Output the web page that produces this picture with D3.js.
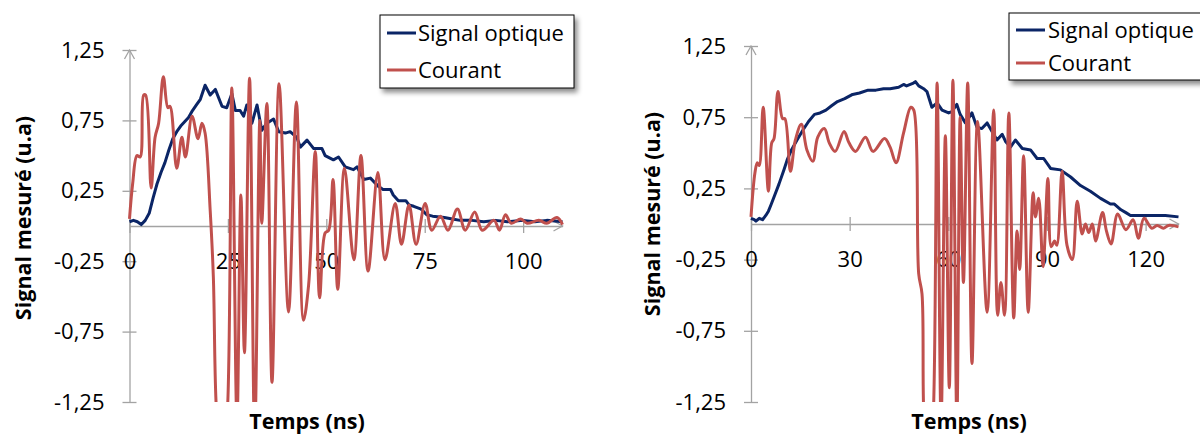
<!DOCTYPE html>
<html><head><meta charset="utf-8">
<script src="https://cdn.jsdelivr.net/npm/d3@7"></script>
<style>body{margin:0;background:#fff}svg{display:block}</style>
</head><body>
<svg id="c" width="1200" height="437"></svg>
<script>
// ---------- DATA ----------
const leftOptiqueT = [0,1,2,3,4,5,6,7,8,9,10,11,12,13,14,15,16,17,18,19.2,20.5,21.8,23.5,24.7,26,26.9,28.1,29,29.8,31.1,32.4,33.6,34.9,36.6,37.9,39.6,40.8,42.5,43.4,45.1,46.8,48.9,49.7,51.8,53.1,54.8,56.9,57.8,59.5,61.2,63.3,64.4,66.3,67,68.3,70.2,71,72.2,74.1,75.5,77,80,82,84,87,90,93,96,100,103,106,110];
const leftOptique  = [0.03,0.04,0.03,0.01,0.04,0.09,0.2,0.3,0.38,0.45,0.54,0.62,0.67,0.71,0.74,0.77,0.82,0.86,0.9,1.0,0.93,0.97,0.85,0.84,0.94,0.82,0.82,0.78,0.86,0.73,0.86,0.68,0.73,0.76,0.67,0.66,0.67,0.63,0.56,0.61,0.55,0.55,0.5,0.47,0.49,0.42,0.4,0.42,0.33,0.34,0.28,0.26,0.26,0.22,0.18,0.18,0.15,0.14,0.12,0.08,0.07,0.06,0.05,0.04,0.04,0.03,0.04,0.03,0.04,0.03,0.04,0.03];
const leftCourantT = [0,0.8,1.9,2.7,3.6,4.1,5.5,6.5,7.4,8.6,9.75,10.3,12,13.3,14.2,15.9,17.4,18.4,19.2,20.5,21.3,22,23.4,24.9,26,27.3,28.3,29.2,30.5,31.8,33.1,33.6,34.9,36.2,38,40.4,42.4,44.2,45.5,47.2,48.3,49.7,50.6,51.7,52.9,54.6,57,58.8,60.6,63.1,64.9,67.5,69.1,71,72.8,75.1,76.8,79,80.9,83.3,85.3,87.7,89.6,92.6,94,95.5,97,99.4,101,104,106,108.6,110];
const leftCourant  = [0.05,0.3,0.5,0.49,0.93,0.93,0.27,0.63,0.73,1.06,0.84,0.85,0.41,0.63,0.49,0.78,0.62,0.73,0.66,0.11,-0.36,-1.26,-1.8,-1.3,0.98,-1.4,0.22,-0.9,1.05,-1.5,0.75,0.02,0.87,-1.11,1.01,-0.61,0.88,-0.67,-0.42,0.53,-0.51,-0.05,-0.03,0.33,-0.45,0.41,-0.24,0.5,-0.32,0.38,-0.24,0.16,-0.13,0.15,-0.13,0.16,-0.03,0.07,-0.03,0.12,-0.03,0.1,-0.03,0.04,-0.03,0.08,0.02,0.05,0.02,0.04,0.02,0.06,0.01];

const rightOptiqueT = [0,1,1.5,2.5,3.5,4.5,5.3,6,7,8.5,10,11,12.3,14,15.8,17.5,19.3,21,22.8,24.5,26.3,28.5,30.9,33,35.6,38,40.3,42.3,44.9,46.4,47.3,49.4,50,51,52.5,53.5,55,56.6,58.1,60.1,61.1,62.6,63.6,65.2,67.2,68.7,70.2,71.8,73.3,74.8,76.4,77.4,78.9,80.4,82.5,85,87,89,91.1,94.1,97.2,100.2,103.2,106.3,109.3,110.5,112.5,114,115.4,118,122,126,130];
const rightOptique  = [0.04,0.03,0.02,0.04,0.03,0.06,0.09,0.13,0.19,0.28,0.38,0.45,0.52,0.59,0.66,0.72,0.77,0.78,0.8,0.83,0.86,0.88,0.91,0.92,0.94,0.94,0.95,0.95,0.96,0.98,0.97,0.99,1.0,0.97,0.95,0.93,0.82,0.85,0.8,0.78,0.79,0.84,0.77,0.71,0.78,0.68,0.67,0.71,0.65,0.59,0.63,0.58,0.54,0.59,0.53,0.52,0.46,0.46,0.39,0.38,0.33,0.27,0.23,0.18,0.14,0.14,0.1,0.08,0.06,0.06,0.06,0.06,0.05];
const rightCourantT = [0,1.2,1.9,2.5,3.7,5.3,6.3,7,8.2,9.6,10.3,12,13.5,15.3,17,18.8,20.3,22.3,23.8,25.6,28.3,29.8,31.8,34.8,37.1,40.6,42.3,44.1,46.4,48.6,49.5,51,52,52.5,54,55.5,56.6,57.8,59.1,60.3,61.4,62.6,63.6,64.6,65.9,67.2,68.9,71.8,73.8,75,76,77.1,78.4,79.9,80.9,81.7,82.9,84.3,85.8,86.5,87.5,88.8,90.3,91.3,92.3,93,94.6,96.1,97.7,99.2,100.7,101.7,102.7,103.8,104.8,106.9,108.1,109.5,111.5,114,116.2,117.8,119.5,121.9,123.5,125.4,127,130];
const rightCourant  = [0.05,0.36,0.43,0.41,0.82,0.23,0.57,0.6,0.93,0.74,0.74,0.37,0.59,0.7,0.52,0.44,0.61,0.67,0.57,0.51,0.65,0.57,0.51,0.61,0.51,0.6,0.54,0.43,0.64,0.82,0.8,-0.35,-0.49,-1.3,-1.9,-1.3,0.99,-1.4,0.62,-1.15,1.01,-1.4,0.75,-0.41,0.99,-0.98,0.72,-0.62,0.8,-0.64,-0.41,-0.64,0.78,-0.66,-0.05,-0.32,0.48,-0.62,0.22,0.05,0.18,-0.3,0.32,-0.16,-0.12,-0.15,0.37,-0.15,-0.25,0.16,-0.07,0,-0.06,0,-0.12,0.08,-0.05,-0.14,0.07,-0.04,0.03,-0.1,0.04,-0.03,-0.01,-0.03,-0.01,-0.02];

const yTickValues = [-1.25,-0.75,-0.25,0.25,0.75,1.25];
const leftXTicks = [0,25,50,75,100];
const rightXTicks = [0,30,60,90,120];
const seriesNames = ["Signal optique","Courant"];
const xTitle = "Temps (ns)";
const yTitle = "Signal mesuré (u.a)";

// ---------- STYLE / LAYOUT ----------
const colors = {optique:"#0B2566", courant:"#C0504D", axis:"#A3A3A3"};
const FONT = "'Open Sans', sans-serif";
const panels = [
  {x0:129.5,x1:562.5,yTop:50,yBot:402,xMax:110,ticks:leftXTicks,
   oT:leftOptiqueT,o:leftOptique,cT:leftCourantT,c:leftCourant,
   titleX:307,titleY:421,yTitleX:23,yTitleY:218,
   lg:{x:380,y:15,w:194,h:73,l1:33,l2:70,lx0:387,lx1:416,tx:418}},
  {x0:751,x1:1178.5,yTop:46,yBot:402,xMax:130,ticks:rightXTicks,
   oT:rightOptiqueT,o:rightOptique,cT:rightCourantT,c:rightCourant,
   titleX:969,titleY:421,yTitleX:652,yTitleY:214,
   lg:{x:1009,y:13,w:210,h:67,l1:30,l2:63,lx0:1016,lx1:1045,tx:1048}}
];

const svg = d3.select("#c");
const defs = svg.append("defs");
const f = defs.append("filter").attr("id","sh").attr("x","-10%").attr("y","-10%").attr("width","130%").attr("height","140%");
f.append("feDropShadow").attr("dx",3).attr("dy",4).attr("stdDeviation",2.5).attr("flood-color","#000").attr("flood-opacity",0.45);

const fmt = v => d3.format(".2f")(v).replace(".",",").replace("\u2212","-");

panels.forEach((p,i)=>{
  const x = d3.scaleLinear().domain([0,p.xMax]).range([p.x0,p.x1]);
  const y = d3.scaleLinear().domain([-1.25,1.25]).range([p.yBot,p.yTop]);
  const g = svg.append("g");

  // Y axis
  const ya = g.append("g").attr("transform",`translate(${p.x0},0)`)
    .call(d3.axisLeft(y).tickValues(yTickValues).tickFormat(fmt).tickSizeInner(7).tickSizeOuter(0).tickPadding(18));
  ya.select(".domain").attr("stroke",colors.axis).attr("stroke-width",1.3);
  ya.selectAll(".tick line").attr("x1",-7).attr("x2",7).attr("stroke",colors.axis).attr("stroke-width",1.3);
  ya.selectAll(".tick text").attr("x",-25).attr("font-family",FONT).attr("font-size",22).attr("fill","#000");
  g.append("path").attr("d",`M${p.x0-5},${p.yTop+9}L${p.x0},${p.yTop}L${p.x0+5},${p.yTop+9}`)
    .attr("fill","none").attr("stroke",colors.axis).attr("stroke-width",1.3);

  // X axis at zero
  const xa = g.append("g").attr("transform",`translate(0,${y(0)})`)
    .call(d3.axisBottom(x).tickValues(p.ticks).tickFormat(d=>d).tickSizeInner(7).tickSizeOuter(0));
  xa.select(".domain").attr("stroke",colors.axis).attr("stroke-width",1.3);
  xa.selectAll(".tick line").attr("y1",-7).attr("y2",7).attr("stroke",colors.axis).attr("stroke-width",1.3);
  xa.selectAll(".tick text").attr("y",35).attr("dy","0.35em").attr("font-family",FONT).attr("font-size",22).attr("fill","#000");
  g.append("path").attr("d",`M${p.x1-9},${y(0)-5}L${p.x1},${y(0)}L${p.x1-9},${y(0)+5}`)
    .attr("fill","none").attr("stroke",colors.axis).attr("stroke-width",1.3);

  // clip
  defs.append("clipPath").attr("id","clip"+i).append("rect")
    .attr("x",p.x0-2).attr("y",p.yTop-10).attr("width",p.x1-p.x0+6).attr("height",p.yBot-p.yTop+10);

  const lineO = d3.line().x((d,k)=>x(p.oT[k])).y(d=>y(d)).curve(d3.curveLinear);
  const lineC = d3.line().x((d,k)=>x(p.cT[k])).y(d=>y(d)).curve(d3.curveCatmullRom.alpha(0.5));
  const lg = g.append("g").attr("clip-path",`url(#clip${i})`);
  lg.append("path").datum(p.o).attr("d",lineO).attr("fill","none").attr("stroke",colors.optique).attr("stroke-width",3).attr("stroke-linejoin","round");
  lg.append("path").datum(p.c).attr("d",lineC).attr("fill","none").attr("stroke",colors.courant).attr("stroke-width",3).attr("stroke-linejoin","round");

  // titles
  g.append("text").attr("x",p.titleX).attr("y",p.titleY).attr("dy","0.35em").attr("text-anchor","middle")
    .attr("font-family",FONT).attr("font-weight","bold").attr("font-size",21.5).text(xTitle);
  g.append("text").attr("transform",`translate(${p.yTitleX},${p.yTitleY}) rotate(-90)`).attr("dy","0.35em").attr("text-anchor","middle")
    .attr("font-family",FONT).attr("font-weight","bold").attr("font-size",21.5).text(yTitle);

  // legend
  const L = p.lg;
  const leg = g.append("g");
  leg.append("rect").attr("x",L.x).attr("y",L.y).attr("width",L.w).attr("height",L.h)
    .attr("fill","#fff").attr("stroke","#000").attr("stroke-width",1).attr("filter","url(#sh)");
  [[L.l1,colors.optique,seriesNames[0]],[L.l2,colors.courant,seriesNames[1]]].forEach(([ly,col,name])=>{
    leg.append("line").attr("x1",L.lx0).attr("x2",L.lx1).attr("y1",ly).attr("y2",ly).attr("stroke",col).attr("stroke-width",3);
    leg.append("text").attr("x",L.tx).attr("y",ly).attr("dy","0.35em").attr("font-family",FONT).attr("font-size",22).text(name);
  });
});
</script>
</body></html>
